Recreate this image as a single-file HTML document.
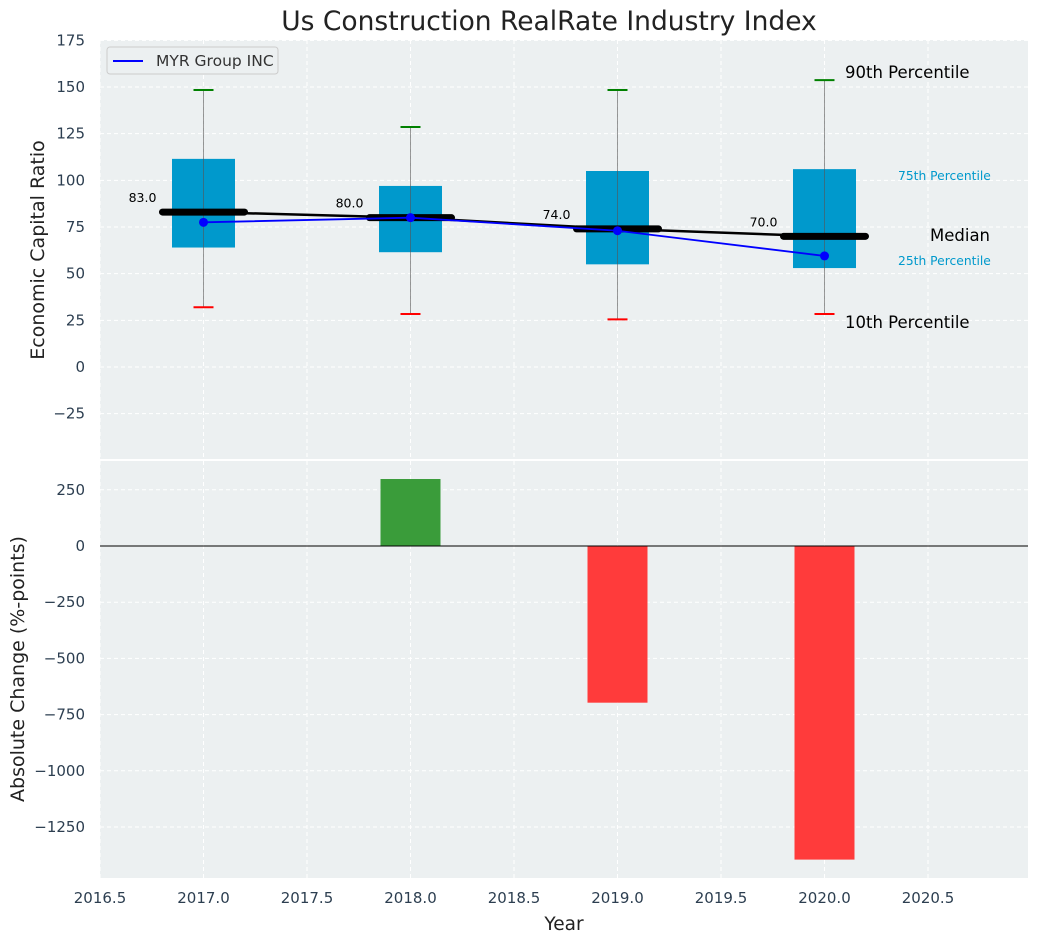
<!DOCTYPE html>
<html><head><meta charset="utf-8"><style>
body{margin:0;background:#fff;font-family:"DejaVu Sans","Liberation Sans",sans-serif}
svg text{font-family:"DejaVu Sans","Liberation Sans",sans-serif}
</style></head><body>
<svg id="c" width="1039" height="942" xmlns="http://www.w3.org/2000/svg"></svg>
<script>
const years=[2017,2018,2019,2020];
const q1=[64,61.5,55,53];
const q3=[111.5,97,105,106];
const p10=[32,28.4,25.5,28.4];
const p90=[148.4,128.6,148.4,153.7];
const medians=[83,80,74,70];
const myr=[77.5,80,73,59.5];
const changes=[0,298,-697,-1395];
const xTicks=[2016.5,2017,2017.5,2018,2018.5,2019,2019.5,2020,2020.5];
const yTopTicks=[-25,0,25,50,75,100,125,150,175];
const yBotTicks=[-1250,-1000,-750,-500,-250,0,250];

const NS="http://www.w3.org/2000/svg",svg=document.getElementById('c');
function el(t,a,p){const e=document.createElementNS(NS,t);for(const k in a)e.setAttribute(k,a[k]);(p||svg).appendChild(e);return e;}
const L=100,R=1028,T1=40,B1=459,T2=461,B2=878;
const X=v=>100+(v-2016.5)*207;
const Y1=v=>367-(v)*280/150;
const Y2=v=>546-v*0.2248;
let t=el('text',{x:549,y:30,'text-anchor':'middle','font-size':26.5,fill:'#222'});t.textContent='Us Construction RealRate Industry Index';

el('rect',{x:L,y:T1,width:R-L,height:B1-T1,fill:'#ecf0f1',});
el('rect',{x:L,y:T2,width:R-L,height:B2-T2,fill:'#ecf0f1',});
xTicks.forEach(v=>{[[T1,B1],[T2,B2]].forEach(([a,b])=>{const g=el('line',{x1:X(v),x2:X(v),y1:a,y2:b,stroke:'#fff','stroke-dasharray':'4,3','stroke-width':1});});
 const tx=el('text',{x:X(v),y:903,'text-anchor':'middle','font-size':15,fill:'#2c3e50'});tx.textContent=v.toFixed(1);});
yTopTicks.forEach(v=>{const y=Y1(v);const g=el('line',{x1:L,x2:R,y1:y,y2:y,stroke:'#fff','stroke-dasharray':'4,3'});
 const tx=el('text',{x:85,y:y+5,'text-anchor':'end','font-size':15,fill:'#2c3e50'});tx.textContent=v<0?'\u2212'+(-v):v;});
yBotTicks.forEach(v=>{const y=Y2(v);const g=el('line',{x1:L,x2:R,y1:y,y2:y,stroke:'#fff','stroke-dasharray':'4,3'});
 const tx=el('text',{x:85,y:y+5,'text-anchor':'end','font-size':15,fill:'#2c3e50'});tx.textContent=v<0?'\u2212'+(-v):v;});
years.forEach((yr,i)=>{const cx=X(yr),w=63;
 const b=el('rect',{x:cx-w/2,y:Y1(q3[i]),width:w,height:Y1(q1[i])-Y1(q3[i]),fill:'#0099cc'});
 const wl=el('line',{x1:cx,x2:cx,y1:Y1(p90[i]),y2:Y1(p10[i]),stroke:'#555','stroke-opacity':0.6,'stroke-width':1});
 const c1=el('line',{x1:cx-10,x2:cx+10,y1:Y1(p90[i]),y2:Y1(p90[i]),stroke:'green','stroke-width':2});
 const c2=el('line',{x1:cx-10,x2:cx+10,y1:Y1(p10[i]),y2:Y1(p10[i]),stroke:'red','stroke-width':2});
});
let pts=years.map((y,i)=>X(y)+','+Y1(medians[i])).join(' ');
let ml=el('polyline',{points:pts,fill:'none',stroke:'#000','stroke-width':2.5});
years.forEach((yr,i)=>{const cx=X(yr),y=Y1(medians[i]);
 const m=el('line',{x1:cx-41,x2:cx+41,y1:y,y2:y,stroke:'#000','stroke-width':7,'stroke-linecap':'round'});
 const tx=el('text',{x:cx-61,y:y-10,'text-anchor':'middle','font-size':12.5,fill:'#000'});tx.textContent=medians[i].toFixed(1);});
pts=years.map((y,i)=>X(y)+','+Y1(myr[i])).join(' ');
let mp=el('polyline',{points:pts,fill:'none',stroke:'blue','stroke-width':1.8});
years.forEach((yr,i)=>{const d=el('circle',{cx:X(yr),cy:Y1(myr[i]),r:4.5,fill:'blue'});});
[['90th Percentile',845,78,16.5,'#000'],['75th Percentile',898,180,12.3,'#0099cc'],['Median',930,241,16.5,'#000'],['25th Percentile',898,265,12.3,'#0099cc'],['10th Percentile',845,328,16.5,'#000']].forEach(a=>{const tx=el('text',{x:a[1],y:a[2],'font-size':a[3],fill:a[4]});tx.textContent=a[0];});
let lg=el('g',{});
el('rect',{x:107,y:47,width:171,height:27,rx:3,fill:'#ecf0f1',stroke:'#ccc'},lg);
el('line',{x1:113,x2:143,y1:61,y2:61,stroke:'blue','stroke-width':2},lg);
t=el('text',{x:156,y:66,'font-size':15.5,fill:'#333'},lg);t.textContent='MYR Group INC';
years.forEach((yr,i)=>{const v=changes[i];if(!v)return;const w=60;
 const b=el('rect',{x:X(yr)-w/2,y:Math.min(Y2(v),Y2(0)),width:w,height:Math.abs(Y2(v)-Y2(0)),fill:v>0?'#3a9c3a':'#ff3b3b'});});
el('line',{x1:L,x2:R,y1:Y2(0),y2:Y2(0),stroke:'#000','stroke-width':1,});
t=el('text',{x:564,y:930,'text-anchor':'middle','font-size':18.5,fill:'#222'});t.textContent='Year';
t=el('text',{x:44,y:250,'text-anchor':'middle','font-size':19,fill:'#222',transform:'rotate(-90 44 250)'});t.textContent='Economic Capital Ratio';
t=el('text',{x:24,y:669,'text-anchor':'middle','font-size':19,fill:'#222',transform:'rotate(-90 24 669)'});t.textContent='Absolute Change (%-points)';
</script></body></html>
